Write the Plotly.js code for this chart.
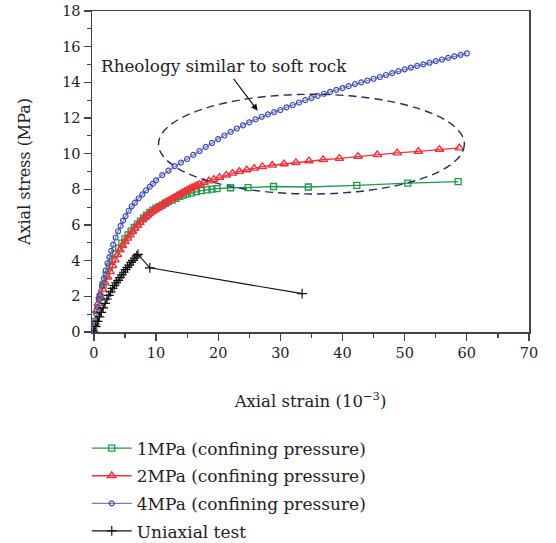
<!DOCTYPE html>
<html>
<head>
<meta charset="utf-8">
<script src="https://cdn.plot.ly/plotly-3.0.1.min.js"></script>
<style>html,body{margin:0;padding:0;background:#fff;}#chart{width:556px;height:543px;}</style>
</head>
<body>
<div id="chart"></div>
<script>
// 1 MPa confining pressure (green squares)
const x1MPa = [0,0.3,0.6,1.0,1.5,2.0,2.5,3.0,3.5,4.0,4.5,5.0,5.5,6.0,6.5,7.0,7.5,8.0,8.5,9.0,9.5,10.0,10.5,11.0,11.5,12.0,12.6,13.2,13.8,14.4,15.0,15.7,16.5,17.3,18.2,19.0,19.8,22.0,24.8,28.9,34.5,42.3,50.5,58.6];
const y1MPa = [0,0.6,1.2,1.95,2.65,3.2,3.65,4.05,4.4,4.7,4.98,5.22,5.45,5.66,5.86,6.05,6.22,6.4,6.55,6.7,6.83,6.95,7.03,7.12,7.22,7.31,7.4,7.5,7.6,7.68,7.74,7.8,7.87,7.93,7.97,8.01,8.04,8.09,8.1,8.16,8.13,8.22,8.35,8.43];

// 2 MPa confining pressure (red triangles)
const x2MPa = [0,0.2,0.45,0.7,1.0,1.4,1.8,2.2,2.6,3.0,3.4,3.8,4.2,4.6,5.0,5.4,5.8,6.2,6.6,7.0,7.4,7.8,8.2,8.6,9.0,9.4,9.8,10.2,10.6,11.0,11.4,11.8,12.2,12.6,13.0,13.4,13.8,14.2,14.6,15.0,15.4,15.8,16.2,16.6,17.0,17.7,18.5,19.3,20.2,21.3,22.3,23.4,24.6,25.8,27.1,28.7,30.6,32.5,34.6,36.9,39.5,42.5,45.6,48.8,52.2,55.6,58.8];
const y2MPa = [0,0.5,1.2,1.6,2.0,2.4,2.75,3.08,3.38,3.72,4.04,4.33,4.6,4.84,5.06,5.26,5.44,5.64,5.82,5.98,6.13,6.28,6.41,6.54,6.66,6.75,6.84,6.94,7.03,7.13,7.22,7.31,7.4,7.48,7.55,7.64,7.72,7.8,7.87,7.95,8.02,8.09,8.15,8.22,8.28,8.38,8.47,8.56,8.67,8.8,8.9,9.0,9.09,9.18,9.27,9.35,9.43,9.5,9.6,9.66,9.74,9.85,9.94,10.04,10.13,10.24,10.32];

// 4 MPa confining pressure (blue circles)
const x4MPa = [0,0.2,0.4,0.6,0.8,1.0,1.3,1.6,1.9,2.2,2.5,2.8,3.1,3.5,3.9,4.3,4.7,5.1,5.6,6.1,6.6,7.2,7.8,8.4,9.0,9.5,10,11,12,13,14,15,16,17,18,19,20,21,22,23,24,25,26,27,28,29,30,31,32,33,34,35,36,37,38,39,40,41,42,43,44,45,46,47,48,49,50,51,52,53,54,55,56,57,58,59,60];
const y4MPa = [0,0.5,1.0,1.4,1.8,2.1,2.6,3.0,3.45,3.85,4.2,4.55,4.9,5.3,5.65,5.95,6.25,6.5,6.8,7.05,7.25,7.5,7.72,7.95,8.15,8.32,8.5,8.8,9.05,9.3,9.5,9.7,9.93,10.15,10.38,10.6,10.82,11.02,11.22,11.41,11.59,11.76,11.92,12.07,12.2,12.33,12.45,12.6,12.73,12.87,13.0,13.12,13.24,13.36,13.47,13.58,13.68,13.79,13.9,14.0,14.1,14.2,14.3,14.41,14.52,14.63,14.73,14.83,14.92,15.01,15.1,15.19,15.28,15.37,15.46,15.54,15.62];

// Uniaxial test (black crosses)
const xUni = [0,0.3,0.6,0.9,1.2,1.5,1.8,2.1,2.4,2.7,3.0,3.3,3.6,3.9,4.2,4.5,4.8,5.1,5.4,5.7,6.0,6.3,6.6,6.9,7.1,9.0,33.5];
const yUni = [0,0.3,0.6,0.85,1.1,1.35,1.6,1.85,2.05,2.25,2.45,2.6,2.75,2.9,3.05,3.2,3.35,3.5,3.62,3.75,3.9,4.02,4.15,4.27,4.35,3.6,2.15];

const seriesNames = ["1MPa (confining pressure)","2MPa (confining pressure)","4MPa (confining pressure)","Uniaxial test"];
const xTicks = [0,10,20,30,40,50,60,70];
const yTicks = [0,2,4,6,8,10,12,14,16,18];
const noteText = "Rheology similar to soft rock";
const ellipseX = [10.4, 59.6];
const ellipseY = [7.74, 13.33];
const arrowHead = [26.35, 12.41];
const arrowTail = [22.3, 14.28];
const notePos = [20.9, 14.92];

const FONT = "DejaVu Serif, serif";
const txt = "#222";

const traces = [
  {x:x1MPa, y:y1MPa, name:seriesNames[0], legendgroup:"a", mode:"lines+markers",
   line:{color:"#1f9a48", width:1.3},
   marker:{symbol:"square-open", size:6, color:"#1f9a48", line:{width:1.3, color:"#1f9a48"}}},
  {x:x2MPa, y:y2MPa, name:seriesNames[1], legendgroup:"b", mode:"lines+markers",
   line:{color:"#f0323c", width:1.3},
   marker:{symbol:"triangle-up-open", size:7.5, color:"#f0323c", line:{width:1.4, color:"#f0323c"}}},
  {x:x4MPa, y:y4MPa, name:seriesNames[2], legendgroup:"c", mode:"lines+markers",
   line:{color:"#7a78c4", width:1.2},
   marker:{symbol:"circle-open", size:5, color:"#3b4fb0", line:{width:1.2, color:"#3b4fb0"}}},
  {x:xUni, y:yUni, name:seriesNames[3], legendgroup:"d", mode:"lines+markers",
   line:{color:"#111", width:1.2},
   marker:{symbol:"cross-thin-open", size:7, color:"#111", line:{width:1.2, color:"#111"}}}
];

const axisCommon = {
  showline:true, mirror:true, linecolor:"#444", linewidth:1.5,
  ticks:"outside", ticklen:7, tickwidth:1.3, tickcolor:"#444",
  showgrid:false, zeroline:false, automargin:false,
  tickfont:{family:FONT, size:14.5, color:txt},
  minor:{ticks:"outside", ticklen:4, tickwidth:1.2, tickcolor:"#444", showgrid:false}
};

const layout = {
  width:556, height:543,
  margin:{l:92, r:27, t:11, b:211},
  paper_bgcolor:"#fff", plot_bgcolor:"#fff",
  font:{family:FONT, color:txt},
  xaxis:Object.assign({}, axisCommon, {
    range:[-0.3,70], tickvals:xTicks, ticktext:xTicks.map(String),
    minor:Object.assign({}, axisCommon.minor, {dtick:5, tick0:0}),
    title:{text:"Axial strain (10<sup>\u22123</sup>)", font:{family:FONT, size:16.5, color:txt}, standoff:35}
  }),
  yaxis:Object.assign({}, axisCommon, {
    range:[0,18], tickvals:yTicks, ticktext:yTicks.map(String),
    minor:Object.assign({}, axisCommon.minor, {dtick:1, tick0:0}),
    title:{text:"Axial stress (MPa)", font:{family:FONT, size:16, color:txt}, standoff:27}
  }),
  legend:{x:-0.012, xanchor:"left", yref:"container", y:0.207, yanchor:"top", bgcolor:"rgba(0,0,0,0)",
    traceorder:"grouped", tracegroupgap:2.5, itemwidth:40,
    font:{family:FONT, size:17, color:txt}},
  shapes:[{type:"circle", xref:"x", yref:"y", x0:ellipseX[0], x1:ellipseX[1], y0:ellipseY[0], y1:ellipseY[1],
    line:{color:"#26305e", width:1.4, dash:"8px,5px"}}],
  annotations:[
    {x:notePos[0], y:notePos[1], xref:"x", yref:"y", text:noteText, showarrow:false,
     font:{family:FONT, size:16.8, color:txt}},
    {x:arrowHead[0], y:arrowHead[1], ax:arrowTail[0], ay:arrowTail[1], xref:"x", yref:"y", axref:"x", ayref:"y",
     text:"", showarrow:true, arrowhead:2, arrowsize:1.2, arrowwidth:1.1, arrowcolor:"#111"}
  ]
};

Plotly.newPlot("chart", traces, layout, {displayModeBar:false, staticPlot:true});
</script>
</body>
</html>
